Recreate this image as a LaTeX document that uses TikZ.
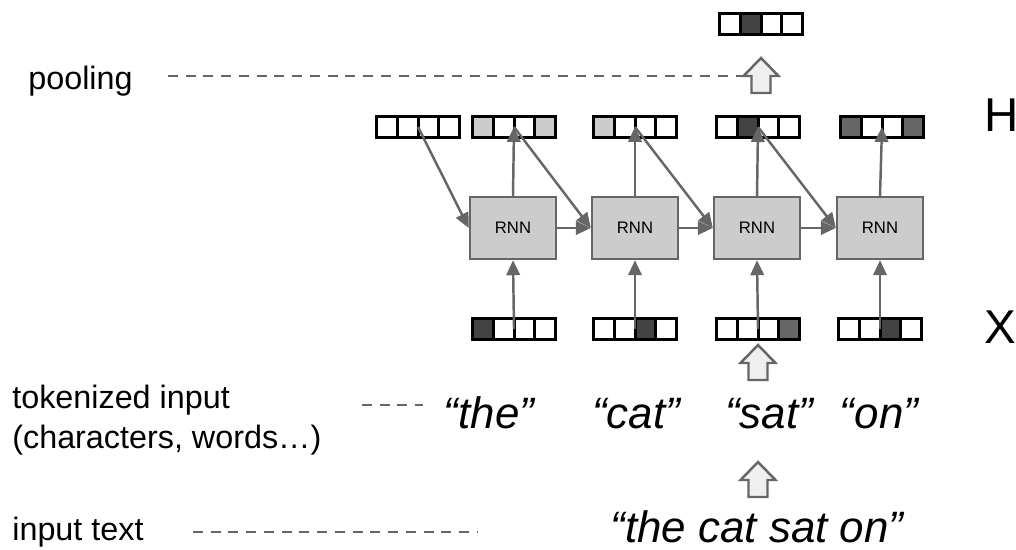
\documentclass[tikz,border=0pt]{standalone}
\usepackage{fontspec}
\setmainfont{Liberation Sans}
\usetikzlibrary{arrows.meta}
\definecolor{linegray}{HTML}{666666}
\definecolor{boxgray}{HTML}{CCCCCC}
\definecolor{light}{HTML}{CCCCCC}
\definecolor{mid}{HTML}{666666}
\definecolor{dark}{HTML}{434343}
\definecolor{arrowfill}{HTML}{EFEFEF}
\begin{document}
\begin{tikzpicture}[x=0.02cm, y=-0.02cm,
    >={Triangle[length=0.3cm,width=0.27cm]},
    rnn/.style={draw=linegray, fill=boxgray, line width=1.4pt, minimum width=1.72cm,
        minimum height=1.24cm, inner sep=0pt, font=\fontsize{9.5}{11}\selectfont},
    cell/.style={draw=black, line width=1.7pt, minimum width=0.415cm, minimum height=0.42cm, inner sep=0pt},
    link/.style={->, draw=linegray, line width=1.4pt},
    guide/.style={draw=linegray, line width=1.6pt, dash pattern=on 5.6pt off 4.5pt},
    blockarr/.style={draw=linegray, fill=arrowfill, line width=1.4pt},
    lbl/.style={font=\fontsize{18.4}{22.2}\selectfont, inner sep=0pt},
    word/.style={font=\fontsize{25}{30}\selectfont\itshape, inner sep=0pt},
    axis/.style={font=\fontsize{27}{32}\selectfont, inner sep=0pt}]
    \useasboundingbox (0,0) rectangle (1016,550);
    % recurrent cells
    \node[rnn] (rnn1) at (513,228) {RNN};
    \node[rnn] (rnn2) at (635,228) {RNN};
    \node[rnn] (rnn3) at (757,228) {RNN};
    \node[rnn] (rnn4) at (880,228) {RNN};
    % one-hot / hidden vectors
    \foreach \n/\x/\y/\ca/\cb/\cc/\cd in {
        h0/418/127/white/white/white/white,
        h1/514/127/light/white/white/light,
        h2/635/127/light/white/white/white,
        h3/758/127/white/dark/white/white,
        h4/882/127/mid/white/white/mid,
        x1/514/329/dark/white/white/white,
        x2/635/329/white/white/dark/white,
        x3/758/329/white/white/white/mid,
        x4/880/329/white/white/dark/white,
        pool/761/24/white/dark/white/white} {
        \coordinate (\n) at (\x,\y);
        \foreach \c [count=\i] in {\ca,\cb,\cc,\cd}
            \node[cell, fill=\c] (\n-\i) at ({\x+(\i-2.5)*20.75},\y) {};
    }
    \foreach \i in {1,...,4} {
        \draw[link] (x\i) -- (rnn\i.south);
        \draw[link] (rnn\i.north) -- (h\i);
    }
    \foreach \a/\b in {0/1,1/2,2/3,3/4}
        \draw[link] (h\a) -- (rnn\b.west);
    \foreach \a/\b in {1/2,2/3,3/4}
        \draw[link] (rnn\a.east) -- (rnn\b.west);
    \node[axis, anchor=base west] (H) at (984,132) {H};
    \node[axis, anchor=base west] (X) at (984,343) {X};
    % tokens and text
    \node[word, anchor=base] (w-the) at (489,428) {“the”};
    \node[word, anchor=base] (w-cat) at (636,428) {“cat”};
    \node[word, anchor=base] (w-sat) at (769,428) {“sat”};
    \node[word, anchor=base] (w-on) at (879,428) {“on”};
    \node[word, anchor=base] (sentence) at (757,542) {“the cat sat on”};
    % hollow arrows
    \coordinate (pool-arr) at (761,93);
    \coordinate (tok-arr) at (758,380);
    \coordinate (text-arr) at (758,497);
    \foreach \p in {pool-arr,tok-arr,text-arr}
        \draw[blockarr, shift={(\p)}] (-9.5,0) -- (-9.5,-17) -- (-17.5,-17) -- (0,-35)
            -- (17.5,-17) -- (9.5,-17) -- (9.5,0) -- cycle;
    % side labels
    \node[lbl, anchor=base west] (pool-lbl) at (28,90) {pooling};
    \node[lbl, anchor=base west, align=left] (tok-lbl) at (12,448) {tokenized input\\(characters, words…)};
    \node[lbl, anchor=base west] (text-lbl) at (12,540) {input text};
    \coordinate (pool-a) at (168,76);
    \coordinate (pool-b) at (743,76);
    \coordinate (tok-a) at (362,405);
    \coordinate (tok-b) at (423,405);
    \coordinate (text-a) at (193,532);
    \coordinate (text-b) at (478,532);
    \draw[guide] (pool-a) -- (pool-b);
    \draw[guide] (tok-a) -- (tok-b);
    \draw[guide] (text-a) -- (text-b);
\end{tikzpicture}
\end{document}
